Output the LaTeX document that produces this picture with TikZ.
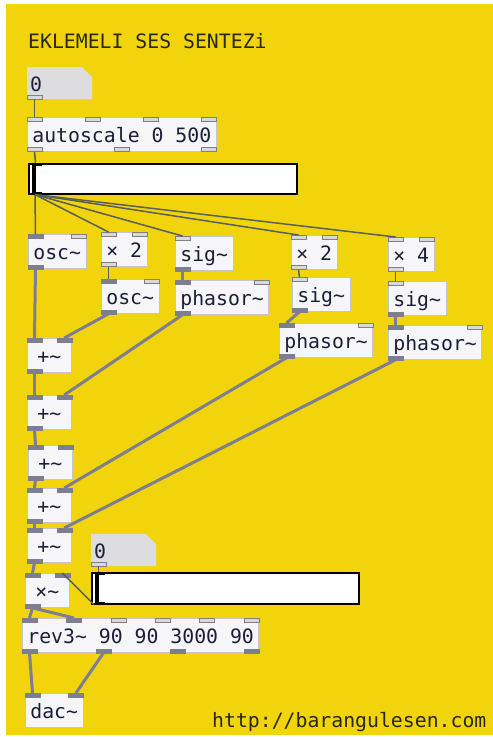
\documentclass[tikz,border=0pt]{standalone}
\usepackage{fontspec}
\usetikzlibrary{calc}
\newfontfamily\pdmono{DejaVu Sans Mono}
\newcommand*\pdtype{\pdmono\fontsize{19.8pt}{22pt}\selectfont}
\definecolor{pdyellow}{RGB}{241,212,12}
\definecolor{boxfill}{RGB}{246,246,248}
\definecolor{boxline}{RGB}{196,196,204}
\definecolor{numfill}{RGB}{221,221,224}
\definecolor{sigline}{RGB}{126,126,146}
\definecolor{ctlline}{RGB}{88,94,90}
\definecolor{pdtext}{RGB}{28,30,56}
\definecolor{cmttext}{RGB}{40,40,20}
% ports along the top / bottom edge of a box, #2 = list of position/style
\newcommand*\inlets[2]{\foreach \f/\s in {#2}
  {\draw[\s] ($(#1.north west)!\f!([xshift=-15pt]#1.north east)$) rectangle +(15,4);}}
\newcommand*\outlets[2]{\foreach \f/\s in {#2}
  {\draw[\s] ($(#1.south west)!\f!([xshift=-15pt]#1.south east)$) rectangle +(15,-4);}}

\begin{document}
\begin{tikzpicture}[x=1pt, y=-1pt, inner sep=0pt,
		sig/.style={draw=sigline, line width=3pt},
		ctl/.style={draw=ctlline, line width=1.5pt}]
		\tikzstyle{obj}=[draw=boxline, fill=boxfill, line width=0.8pt, anchor=north west,
			inner xsep=5pt, minimum height=34pt, text height=16pt, text depth=0pt,
			font=\pdtype, text=pdtext]
		\tikzstyle{add}=[obj, minimum width=44pt]
		\tikzstyle{numbox}=[anchor=north west, minimum height=32pt, inner xsep=3pt,
			text width=59pt, align=left, text height=16pt, text depth=0pt,
			font=\pdtype, text=pdtext,
			path picture={\fill[numfill] (path picture bounding box.south west)
				-- (path picture bounding box.north west)
				-- ([xshift=-10pt]path picture bounding box.north east)
				-- ([yshift=-10pt]path picture bounding box.north east)
				-- (path picture bounding box.south east) -- cycle;}]
		\tikzstyle{hsl}=[draw=black, fill=white, line width=1.6pt, anchor=north west,
			minimum height=30pt,
			path picture={\fill[black] ([xshift=3pt]path picture bounding box.south west)
				rectangle ([xshift=7pt]path picture bounding box.north west);
				\draw[black, line width=1.6pt]
				([xshift=6pt,yshift=-1.5pt]path picture bounding box.north west) -- ++(7,0)
				([xshift=6pt,yshift=1.5pt]path picture bounding box.south west) -- ++(7,0);}]
		\tikzstyle{pdcomment}=[anchor=base west, font=\pdtype, text=cmttext]
		\tikzstyle{sp}=[fill=sigline, draw=sigline, line width=0.5pt]
		\tikzstyle{cp}=[fill=boxfill!75!gray, draw=gray, line width=0.8pt]

		\path[use as bounding box, fill=white] (0,0) rectangle (493,737);
		\fill[pdyellow] (6,4) rectangle (493,735);

		\node[pdcomment]	(title)	at (28,48)	{EKLEMELI SES SENTEZi};
		\node[pdcomment]	(url)	at (212,727)	{http://barangulesen.com};

		\node[numbox]	(num1)	at (27,67)	{0};
		\node[obj]	(scale)	at (27,117)	{autoscale 0 500};
		\node[hsl, minimum width=268pt]	(sl1)	at (28,163)	{};

		\node[obj]	(osc1)	at (28,234)	{osc\textasciitilde};
		\node[obj]	(mul1)	at (101,232)	{× 2};
		\node[obj]	(sig1)	at (175,236)	{sig\textasciitilde};
		\node[obj]	(mul2)	at (291,235)	{× 2};
		\node[obj]	(mul3)	at (388,237)	{× 4};
		\node[obj]	(osc2)	at (101,279)	{osc\textasciitilde};
		\node[obj]	(ph1)	at (175,280)	{phasor\textasciitilde};
		\node[obj]	(sig2)	at (292,277)	{sig\textasciitilde};
		\node[obj]	(sig3)	at (388,281)	{sig\textasciitilde};
		\node[obj]	(ph2)	at (279,323)	{phasor\textasciitilde};
		\node[obj]	(ph3)	at (388,325)	{phasor\textasciitilde};

		\node[add]	(add1)	at (27,338)	{+\textasciitilde};
		\node[add]	(add2)	at (27,395)	{+\textasciitilde};
		\node[add]	(add3)	at (28,445)	{+\textasciitilde};
		\node[add]	(add4)	at (27,488)	{+\textasciitilde};
		\node[add]	(add5)	at (27,528)	{+\textasciitilde};

		\node[numbox]	(num2)	at (91,534)	{0};
		\node[add]	(amp)	at (25,573)	{×\textasciitilde};
		\node[hsl, minimum width=267pt, minimum height=31pt]	(sl2)	at (91,572)	{};
		\node[obj]	(rev)	at (22,618)	{rev3\textasciitilde{} 90 90 3000 90};
		\node[obj]	(dac)	at (25,693)	{dac\textasciitilde};

		% inlets and outlets
		\outlets{num1}{0/cp}
		\outlets{num2}{0/cp}
		\inlets{scale}{0/cp, 0.333/cp, 0.667/cp, 1/cp}
		\outlets{scale}{0/cp, 0.5/cp, 1/cp}
		\foreach \n in {mul1,mul2,mul3} {\inlets{\n}{0/cp, 1/cp} \outlets{\n}{0/cp}}
		\foreach \n in {sig1,sig2,sig3} {\inlets{\n}{0/cp} \outlets{\n}{0/sp}}
		\foreach \n in {osc1,osc2,ph1,ph2,ph3} {\inlets{\n}{0/sp, 1/cp} \outlets{\n}{0/sp}}
		\foreach \n in {add1,add2,add3,add4,add5,amp} {\inlets{\n}{0/sp, 1/sp} \outlets{\n}{0/sp}}
		\inlets{rev}{0/sp, 0.2/sp, 0.4/cp, 0.6/cp, 0.8/cp, 1/cp}
		\outlets{rev}{0/sp, 0.333/sp, 0.667/sp, 1/sp}
		\inlets{dac}{0/sp, 1/sp}

		% control connections
		\path ([xshift=7.5pt]num1.south west)	edge[ctl] ([xshift=7.5pt]scale.north west);
		\path ([xshift=7.5pt]scale.south west)	edge[ctl] ([xshift=7.5pt]sl1.north west);
		\path ([xshift=7pt]sl1.south west)	edge[ctl] ([xshift=7.5pt]osc1.north west)
					edge[ctl] ([xshift=7.5pt]mul1.north west)
					edge[ctl] ([xshift=7.5pt]sig1.north west)
					edge[ctl] ([xshift=7.5pt]mul2.north west)
					edge[ctl] ([xshift=7.5pt]mul3.north west);
		\path ([xshift=7.5pt]mul1.south west)	edge[ctl] ([xshift=7.5pt]osc2.north west);
		\path ([xshift=7.5pt]mul2.south west)	edge[ctl] ([xshift=7.5pt]sig2.north west);
		\path ([xshift=7.5pt]mul3.south west)	edge[ctl] ([xshift=7.5pt]sig3.north west);
		\path ([xshift=7.5pt]num2.south west)	edge[ctl] ([xshift=7.5pt]sl2.north west);
		\path ([xshift=3pt]sl2.south west)	edge[ctl] ([xshift=-7.5pt]amp.north east);

		% signal connections
		\path ([xshift=7.5pt]sig1.south west)	edge[sig] ([xshift=7.5pt]ph1.north west);
		\path ([xshift=7.5pt]sig2.south west)	edge[sig] ([xshift=7.5pt]ph2.north west);
		\path ([xshift=7.5pt]sig3.south west)	edge[sig] ([xshift=7.5pt]ph3.north west);
		\path ([xshift=7.5pt]osc1.south west)	edge[sig] ([xshift=7.5pt]add1.north west);
		\path ([xshift=7.5pt]osc2.south west)	edge[sig] ([xshift=-7.5pt]add1.north east);
		\path ([xshift=7.5pt]add1.south west)	edge[sig] ([xshift=7.5pt]add2.north west);
		\path ([xshift=7.5pt]ph1.south west)	edge[sig] ([xshift=-7.5pt]add2.north east);
		\path ([xshift=7.5pt]add2.south west)	edge[sig] ([xshift=7.5pt]add3.north west);
		\path ([xshift=7.5pt]add3.south west)	edge[sig] ([xshift=7.5pt]add4.north west);
		\path ([xshift=7.5pt]ph2.south west)	edge[sig] ([xshift=-7.5pt]add4.north east);
		\path ([xshift=7.5pt]add4.south west)	edge[sig] ([xshift=7.5pt]add5.north west);
		\path ([xshift=7.5pt]ph3.south west)	edge[sig] ([xshift=-7.5pt]add5.north east);
		\path ([xshift=7.5pt]add5.south west)	edge[sig] ([xshift=7.5pt]amp.north west);
		\path ([xshift=7.5pt]amp.south west)	edge[sig] ([xshift=7.5pt]rev.north west)
					edge[sig] ($(rev.north west)!0.2!([xshift=-15pt]rev.north east)+(7.5,0)$);
		\path ([xshift=7.5pt]rev.south west)	edge[sig] ([xshift=7.5pt]dac.north west);
		\path ($(rev.south west)!0.333!([xshift=-15pt]rev.south east)+(7.5,0)$)
					edge[sig] ([xshift=-7.5pt]dac.north east);
\end{tikzpicture}
\end{document}
